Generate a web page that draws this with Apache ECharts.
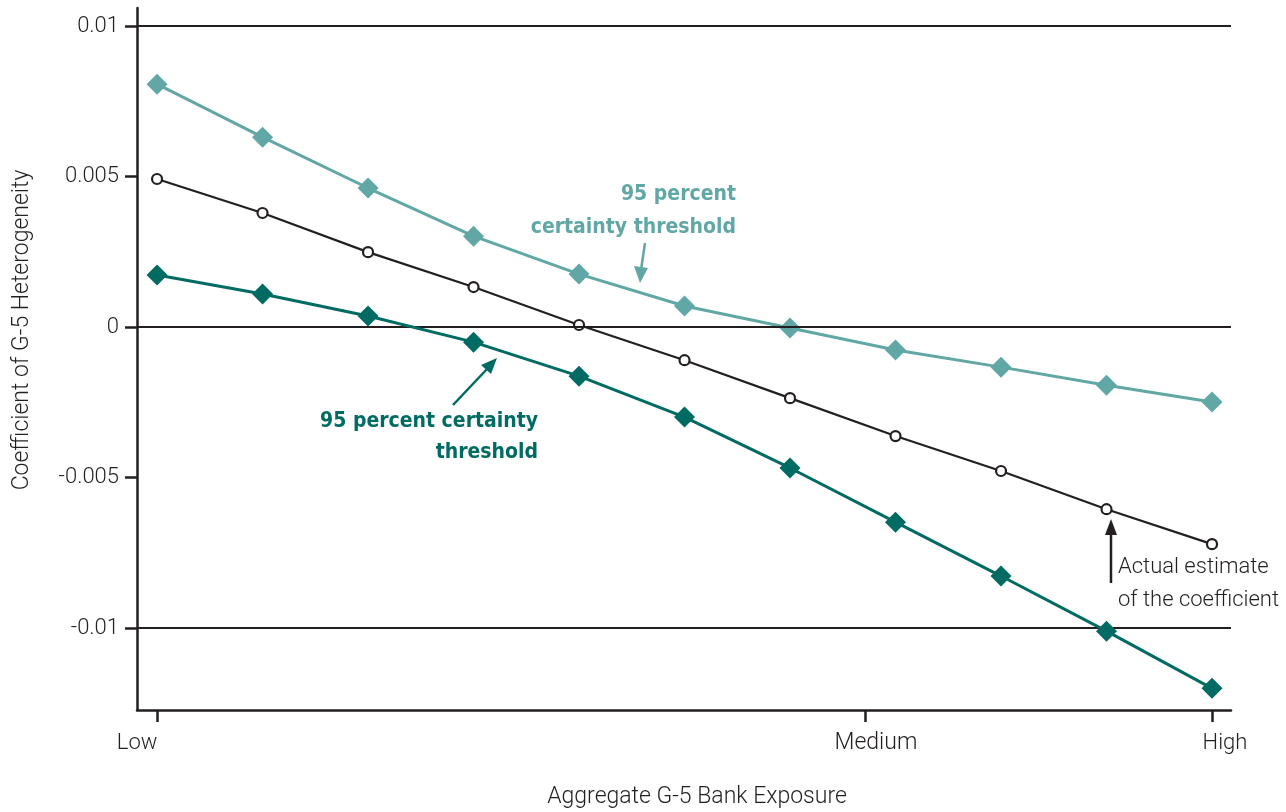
<!DOCTYPE html>
<html>
<head>
<meta charset="utf-8">
<script src="https://cdn.jsdelivr.net/npm/echarts@6/dist/echarts.min.js"></script>
<style>
  html, body { margin: 0; padding: 0; background: #fff; }
  #chart { width: 1286px; height: 812px; }
</style>
</head>
<body>
<div id="chart"></div>
<script>
// exposure steps, Low (0) .. High (10)
const exposure = [0, 1, 2, 3, 4, 5, 6, 7, 8, 9, 10];
const upperBound = [0.00807, 0.00631, 0.00462, 0.00302, 0.00176, 0.0007, -0.00003, -0.00076, -0.00133, -0.00193, -0.00249];
const estimate = [0.00492, 0.00379, 0.00249, 0.00133, 0.00007, -0.0011, -0.00236, -0.00362, -0.00478, -0.00605, -0.00721];
const lowerBound = [0.00173, 0.0011, 0.00037, -0.0005, -0.00163, -0.00299, -0.00468, -0.00648, -0.00827, -0.0101, -0.012];

const yTicks = [0.01, 0.005, 0, -0.005, -0.01];
const xTicks = [0, 6.71, 10];
const xTickNames = ['Low', 'Medium', 'High'];

const INK = '#231f20';
const LIGHT = '#60a7a5';
const DARK = '#006b62';
const FONT = 'Roboto, "Liberation Sans", sans-serif';
const BOLD_FONT = '"Liberation Sans Narrow", "DejaVu Sans Condensed", "Liberation Sans", sans-serif';

const pair = (ys) => exposure.map((x, i) => [x, ys[i]]);

const chart = echarts.init(document.getElementById('chart'));

chart.setOption({
  animation: false,
  backgroundColor: '#fff',
  grid: { left: 137, right: 55, top: 8, bottom: 102 },
  xAxis: {
    type: 'value',
    min: -0.19,
    max: 10.18,
    axisLine: { onZero: false, lineStyle: { color: INK, width: 2.5 } },
    axisTick: {
      show: true,
      customValues: xTicks,
      length: 12,
      lineStyle: { color: INK, width: 2.5 }
    },
    axisLabel: {
      customValues: xTicks,
      margin: 22,
      color: INK,
      fontFamily: FONT,
      fontWeight: 300,
      fontSize: 22,
      formatter: (v) => {
        const i = xTicks.indexOf(v);
        return '{t' + i + '|' + xTickNames[i] + '}';
      },
      rich: {
        t0: { fontFamily: FONT, fontWeight: 300, fontSize: 22, color: INK, padding: [0, 40, 0, 0] },
        t1: { fontFamily: FONT, fontWeight: 300, fontSize: 23, color: INK, padding: [0, 0, 0, 22] },
        t2: { fontFamily: FONT, fontWeight: 300, fontSize: 22, color: INK, padding: [0, 0, 0, 26] }
      }
    },
    splitLine: { show: false }
  },
  yAxis: {
    type: 'value',
    min: -0.01272,
    max: 0.0106,
    axisLine: { show: true, onZero: false, lineStyle: { color: INK, width: 2.5 } },
    axisTick: {
      show: true,
      customValues: yTicks,
      length: 12,
      lineStyle: { color: INK, width: 2.5 }
    },
    axisLabel: {
      customValues: yTicks,
      margin: 18,
      color: INK,
      fontFamily: FONT,
      fontWeight: 300,
      fontSize: 22,
      formatter: (v) => String(v)
    },
    splitLine: { show: false }
  },
  series: [
    {
      // horizontal reference lines at the labelled values
      type: 'line',
      data: [],
      z: 1,
      silent: true,
      markLine: {
        silent: true,
        symbol: 'none',
        label: { show: false },
        lineStyle: { color: INK, width: 2.2, type: 'solid' },
        data: yTicks.map((v) => ({ yAxis: v }))
      }
    },
    {
      name: 'Upper threshold',
      type: 'line',
      data: pair(upperBound),
      z: 3,
      symbol: 'diamond',
      symbolSize: 21,
      lineStyle: { color: LIGHT, width: 3 },
      itemStyle: { color: LIGHT }
    },
    {
      name: 'Estimate',
      type: 'line',
      data: pair(estimate),
      z: 4,
      symbol: 'circle',
      symbolSize: 10,
      showAllSymbol: true,
      lineStyle: { color: INK, width: 2.2 },
      itemStyle: { color: '#fff', borderColor: INK, borderWidth: 2.2 }
    },
    {
      name: 'Lower threshold',
      type: 'line',
      data: pair(lowerBound),
      z: 5,
      symbol: 'diamond',
      symbolSize: 21,
      lineStyle: { color: DARK, width: 3 },
      itemStyle: { color: DARK }
    }
  ],
  graphic: [
    {
      type: 'text', x: 22, y: 330, rotation: Math.PI / 2,
      style: { text: 'Coefficient of G-5 Heterogeneity', fill: INK, font: '300 23px ' + FONT, align: 'center', verticalAlign: 'middle' }
    },
    {
      type: 'text', x: 697, y: 797,
      style: { text: 'Aggregate G-5 Bank Exposure', fill: INK, font: '300 23px ' + FONT, align: 'center', verticalAlign: 'middle' }
    },
    // light teal note
    {
      type: 'text', x: 736, y: 211,
      style: { text: '95 percent\ncertainty threshold', fill: LIGHT, font: 'bold 21px ' + BOLD_FONT, align: 'right', verticalAlign: 'middle', lineHeight: 33 }
    },
    { type: 'line', shape: { x1: 645, y1: 243, x2: 641, y2: 270 }, style: { stroke: LIGHT, lineWidth: 2.5 } },
    { type: 'polygon', shape: { points: [[634, 266], [648, 268], [640, 283]] }, style: { fill: LIGHT } },
    // dark teal note
    {
      type: 'text', x: 538, y: 437,
      style: { text: '95 percent certainty\nthreshold', fill: DARK, font: 'bold 21px ' + BOLD_FONT, align: 'right', verticalAlign: 'middle', lineHeight: 31 }
    },
    { type: 'line', shape: { x1: 453, y1: 405, x2: 488, y2: 368 }, style: { stroke: DARK, lineWidth: 2.5 } },
    { type: 'polygon', shape: { points: [[481, 365], [491, 374], [497, 358]] }, style: { fill: DARK } },
    // black note
    {
      type: 'text', x: 1118, y: 584,
      style: { text: 'Actual estimate\nof the coefficient', fill: INK, font: '300 22px ' + FONT, align: 'left', verticalAlign: 'middle', lineHeight: 33 }
    },
    { type: 'line', shape: { x1: 1111, y1: 583, x2: 1111, y2: 532 }, style: { stroke: INK, lineWidth: 2.5 } },
    { type: 'polygon', shape: { points: [[1105, 535], [1117, 535], [1111, 519]] }, style: { fill: INK } }
  ]
});
</script>
</body>
</html>
